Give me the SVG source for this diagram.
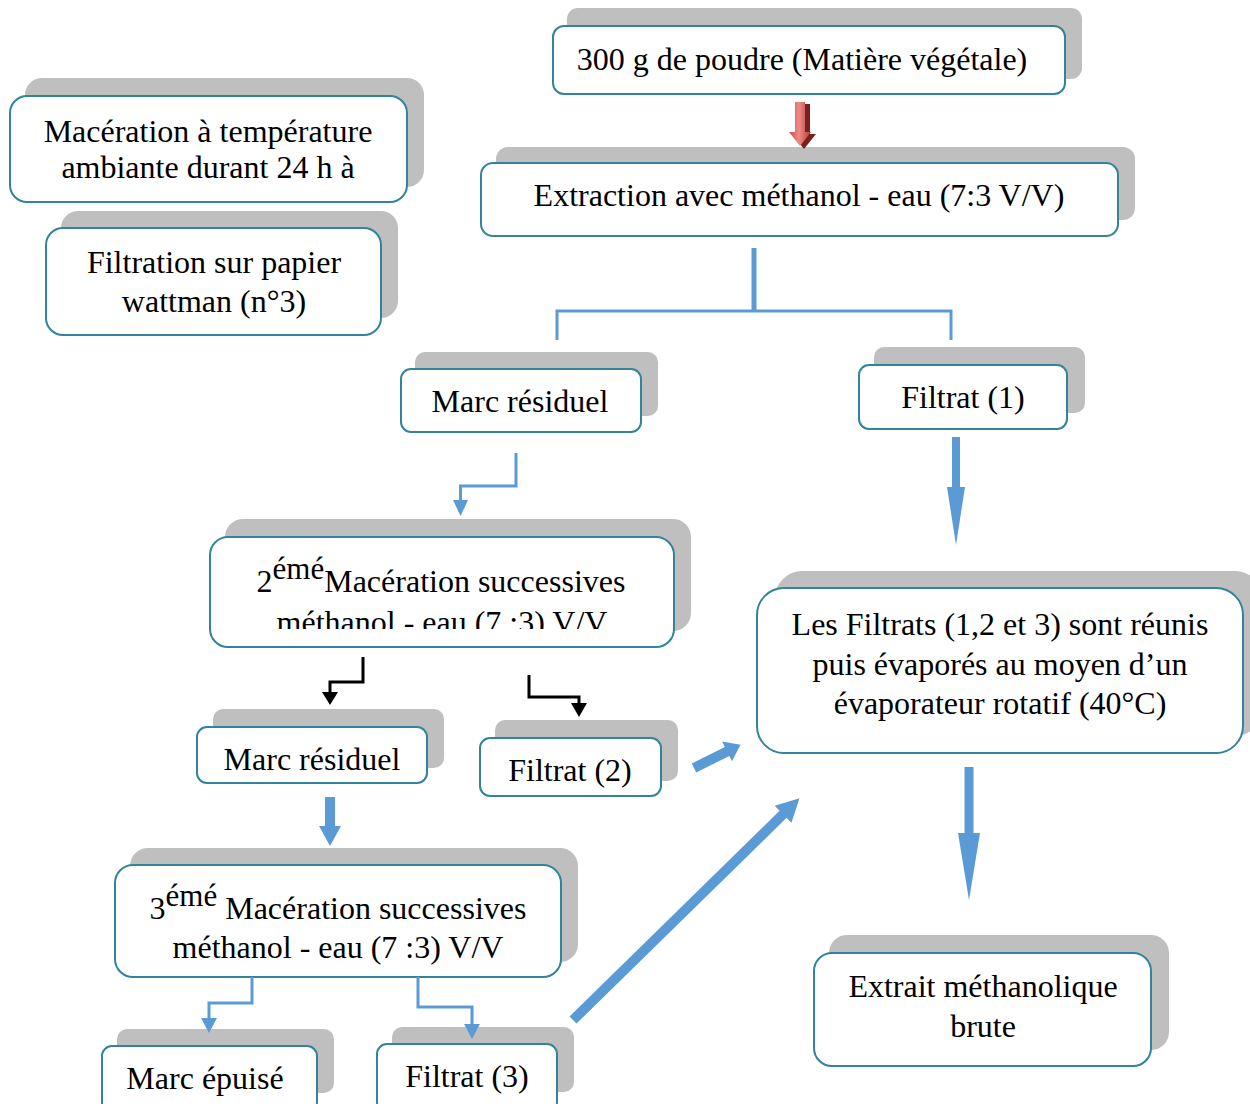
<svg xmlns="http://www.w3.org/2000/svg" width="1250" height="1104" viewBox="0 0 1250 1104">
<style>
.sh{fill:#bfbfbf}
.bx{fill:#fff;stroke:#31849b;stroke-width:2}
.t{font-family:"Liberation Serif","Times New Roman",serif;font-size:32px;fill:#000;text-anchor:middle}
.sup{font-size:31px}
.ln{stroke:#5b9bd5;fill:none;stroke-width:3}
.lk{stroke:#000;fill:none;stroke-width:3}
.ar{fill:#5b9bd5}
.ak{fill:#000}
</style>
<defs>
<linearGradient id="rg" x1="0" y1="0" x2="1" y2="0">
<stop offset="0" stop-color="#c0504d"/>
<stop offset="0.45" stop-color="#f08a86"/>
<stop offset="1" stop-color="#b03a36"/>
</linearGradient>
<clipPath id="clip2"><rect x="210" y="537" width="464" height="92"/></clipPath>
</defs>
<rect width="1250" height="1104" fill="#fff"/>

<g id="n-poudre">
<rect class="sh" x="567" y="8" width="515" height="71" rx="11"/>
<rect class="bx" x="553" y="26" width="512" height="68" rx="11"/>
<text class="t" x="802" y="70">300 g de poudre (Matière végétale)</text>
</g>

<g id="n-extraction">
<rect class="sh" x="496" y="147" width="639" height="73" rx="12"/>
<rect class="bx" x="481" y="163" width="637" height="73" rx="12"/>
<text class="t" x="799" y="206">Extraction avec méthanol - eau (7:3 V/V)</text>
</g>

<g id="n-maceration">
<rect class="sh" x="25" y="78" width="399" height="109" rx="17"/>
<rect class="bx" x="10" y="96" width="397" height="106" rx="17"/>
<text class="t" x="208" y="142">Macération à température</text>
<text class="t" x="208" y="178">ambiante durant 24 h à</text>
</g>

<g id="n-filtration">
<rect class="sh" x="61" y="211" width="337" height="107" rx="17"/>
<rect class="bx" x="46" y="228" width="335" height="107" rx="17"/>
<text class="t" x="214" y="273">Filtration sur papier</text>
<text class="t" x="214" y="312">wattman (n°3)</text>
</g>

<g id="n-marc1">
<rect class="sh" x="415" y="352" width="243" height="64" rx="10"/>
<rect class="bx" x="401" y="369" width="240" height="63" rx="10"/>
<text class="t" x="520" y="412">Marc résiduel</text>
</g>

<g id="n-filtrat1">
<rect class="sh" x="874" y="347" width="211" height="66" rx="10"/>
<rect class="bx" x="859" y="365" width="208" height="64" rx="10"/>
<text class="t" x="963" y="408">Filtrat (1)</text>
</g>

<g id="n-mac2">
<rect class="sh" x="225" y="519" width="466" height="112" rx="18"/>
<rect class="bx" x="210" y="537" width="464" height="110" rx="18"/>
<text class="t" x="441" y="592">2<tspan class="sup" dy="-13">émé</tspan><tspan dy="13">Macération successives</tspan></text>
<text class="t" x="442" y="633" clip-path="url(#clip2)">méthanol - eau (7 :3) V/V</text>
</g>

<g id="n-marc2">
<rect class="sh" x="213" y="709" width="231" height="59" rx="10"/>
<rect class="bx" x="197" y="727" width="230" height="56" rx="10"/>
<text class="t" x="312" y="770">Marc résiduel</text>
</g>

<g id="n-filtrat2">
<rect class="sh" x="495" y="720" width="183" height="61" rx="10"/>
<rect class="bx" x="480" y="738" width="181" height="58" rx="10"/>
<text class="t" x="570" y="781">Filtrat (2)</text>
</g>

<g id="n-reunis">
<rect class="sh" x="775" y="571" width="487" height="165" rx="27"/>
<rect class="bx" x="757" y="588" width="486" height="165" rx="27"/>
<text class="t" x="1000" y="635">Les Filtrats (1,2 et 3) sont réunis</text>
<text class="t" x="1000" y="675">puis évaporés au moyen d’un</text>
<text class="t" x="1000" y="714">évaporateur rotatif (40°C)</text>
</g>

<g id="n-mac3">
<rect class="sh" x="130" y="848" width="448" height="114" rx="18"/>
<rect class="bx" x="115" y="865" width="446" height="112" rx="18"/>
<text class="t" x="338" y="919">3<tspan class="sup" dy="-13">émé</tspan><tspan dy="13"> Macération successives</tspan></text>
<text class="t" x="338" y="958">méthanol - eau (7 :3) V/V</text>
</g>

<g id="n-epuise">
<rect class="sh" x="117" y="1029" width="217" height="64" rx="10"/>
<rect class="bx" x="102" y="1046" width="215" height="66" rx="10"/>
<text class="t" x="205" y="1089">Marc épuisé</text>
</g>

<g id="n-filtrat3">
<rect class="sh" x="392" y="1027" width="182" height="65" rx="10"/>
<rect class="bx" x="377" y="1044" width="180" height="68" rx="10"/>
<text class="t" x="467" y="1087">Filtrat (3)</text>
</g>

<g id="n-extrait">
<rect class="sh" x="829" y="935" width="340" height="115" rx="18"/>
<rect class="bx" x="814" y="953" width="337" height="113" rx="18"/>
<text class="t" x="983" y="997">Extrait méthanolique</text>
<text class="t" x="983" y="1037">brute</text>
</g>

<g id="connectors">
<polygon points="799,104 810,104 810,134 816,134 804,149 792,134 799,134" fill="#7a1f1d"/>
<polygon points="795,102 805,102 805,132 811,132 800,146 789,132 795,132" fill="url(#rg)"/>
<line x1="754" y1="248" x2="754" y2="311" stroke="#5b9bd5" stroke-width="5"/>
<path class="ln" d="M557,340 V311 H951 V340"/>
<path class="ln" d="M516,453 V486 H460.5 V501"/>
<polygon class="ar" points="453,500 468,500 460.5,516"/>
<rect class="ar" x="952" y="437" width="8" height="51"/>
<polygon class="ar" points="947,487 965,487 956,545"/>
<path class="lk" d="M363,657 V682 H330 V693"/>
<polygon class="ak" points="322,692 338,692 330,705"/>
<path class="lk" d="M529,675 V697 H579 V704"/>
<polygon class="ak" points="571,703 587,703 579,717"/>
<polygon class="ar" transform="translate(694,768) rotate(-26.6)" points="0,-5 37,-5 37,-11 52,0 37,11 37,5 0,5"/>
<rect class="ar" x="325" y="797" width="10" height="30"/>
<polygon class="ar" points="319,826 341,826 330,846"/>
<path class="ln" d="M252,977 V1003 H209 V1019"/>
<polygon class="ar" points="201,1018 217,1018 209,1033"/>
<path class="ln" d="M418,977 V1007 H472 V1025"/>
<polygon class="ar" points="464,1024 480,1024 472,1039"/>
<polygon class="ar" transform="translate(573,1020) rotate(-44.4)" points="0,-5 294,-5 294,-12 317,0 294,12 294,5 0,5"/>
<rect class="ar" x="964.5" y="767" width="9" height="67"/>
<polygon class="ar" points="958,833 980,833 969,900"/>
</g>
</svg>
